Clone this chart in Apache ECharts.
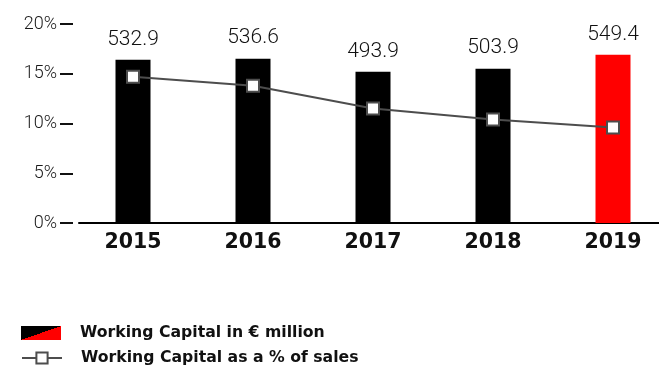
<!DOCTYPE html>
<html>
<head>
<meta charset="utf-8">
<script src="https://cdn.jsdelivr.net/npm/echarts@6/dist/echarts.min.js"></script>
<style>
  html, body { margin: 0; padding: 0; background: #fff; }
  #chart { width: 659px; height: 368px; }
</style>
</head>
<body>
<div id="chart"></div>
<script>
// Years shown on the category axis
const years = ['2015', '2016', '2017', '2018', '2019'];
// Working capital, € million (bars)
const workingCapital = [532.9, 536.6, 493.9, 503.9, 549.4];
// Working capital as a share of sales, % (line)
const wcPercentOfSales = [14.7, 13.8, 11.5, 10.4, 9.6];
// Percentage axis ticks
const pctTicks = [0, 5, 10, 15, 20];

const barName = 'Working Capital in € million';
const lineName = 'Working Capital as a % of sales';

const barColors = workingCapital.map((v, i) => (i === workingCapital.length - 1 ? '#ff0000' : '#000000'));

const legendText = {
  fontFamily: 'DejaVu Sans',
  fontWeight: 'bold',
  fontSize: 15.7,
  color: '#111111',
  rich: {
    t: {
      fontFamily: 'DejaVu Sans',
      fontWeight: 'bold',
      fontSize: 15.7,
      color: '#111111',
      padding: [0, 0, 0, 14]
    }
  }
};
const legendBase = {
  orient: 'horizontal',
  left: 21,
  padding: 0,
  itemWidth: 40,
  itemHeight: 14,
  selectedMode: false,
  formatter: (name) => '{t|' + name + '}',
  textStyle: legendText
};

const chart = echarts.init(document.getElementById('chart'), null, { renderer: 'canvas' });

chart.setOption({
  animation: false,
  backgroundColor: '#ffffff',
  grid: [
    { left: 73, width: 600, top: 24, bottom: 145, outerBoundsMode: 'none', containLabel: false },
    { left: 79, right: 0, top: 24, bottom: 145, outerBoundsMode: 'none', containLabel: false }
  ],
  xAxis: [
    {
      type: 'category',
      gridIndex: 0,
      data: years,
      axisLine: { show: false },
      axisTick: { show: false },
      axisLabel: {
        margin: 9,
        fontFamily: 'DejaVu Sans',
        fontWeight: 'bold',
        fontSize: 20.5,
        color: '#111111'
      }
    },
    {
      type: 'value',
      gridIndex: 1,
      min: 0,
      max: 1,
      axisLine: { show: true, lineStyle: { color: '#000000', width: 2 } },
      axisTick: { show: false },
      axisLabel: { show: false },
      splitLine: { show: false }
    }
  ],
  yAxis: [
    {
      type: 'value',
      gridIndex: 0,
      min: pctTicks[0],
      max: pctTicks[pctTicks.length - 1],
      interval: 5,
      axisLine: { show: false },
      axisTick: { show: true, length: 13, lineStyle: { color: '#111111', width: 2 } },
      splitLine: { show: false },
      axisLabel: {
        margin: 16,
        formatter: '{value}%',
        fontFamily: 'Roboto',
        fontWeight: 300,
        fontSize: 18,
        color: '#1a1a1a'
      }
    },
    {
      type: 'value',
      gridIndex: 0,
      min: 0,
      max: 650,
      show: false,
      splitLine: { show: false }
    },
    {
      type: 'value',
      gridIndex: 1,
      show: false
    }
  ],
  legend: [
    Object.assign({}, legendBase, {
      top: 325,
      data: [
        {
          name: barName,
          icon: 'rect',
          itemStyle: {
            color: {
              type: 'linear',
              x: 0.439, y: 0, x2: 0.561, y2: 1,
              colorStops: [
                { offset: 0, color: '#000000' },
                { offset: 0.5, color: '#000000' },
                { offset: 0.5, color: '#ff0000' },
                { offset: 1, color: '#ff0000' }
              ]
            }
          }
        }
      ]
    }),
    Object.assign({}, legendBase, {
      top: 350,
      data: [{ name: lineName }]
    })
  ],
  series: [
    {
      name: barName,
      type: 'bar',
      xAxisIndex: 0,
      yAxisIndex: 1,
      barWidth: 35,
      data: workingCapital.map((v, i) => ({ value: v, itemStyle: { color: barColors[i] } })),
      label: {
        show: true,
        position: 'top',
        distance: 10,
        formatter: (p) => p.value.toFixed(1),
        fontFamily: 'Roboto',
        fontWeight: 300,
        fontSize: 21,
        color: '#111111'
      },
      z: 2
    },
    {
      name: lineName,
      type: 'line',
      xAxisIndex: 0,
      yAxisIndex: 0,
      data: wcPercentOfSales,
      symbol: 'rect',
      symbolSize: 12,
      lineStyle: { color: '#4d4d4d', width: 2 },
      itemStyle: { color: '#ffffff', borderColor: '#4d4d4d', borderWidth: 2 },
      z: 3
    }
  ]
});
</script>
</body>
</html>
